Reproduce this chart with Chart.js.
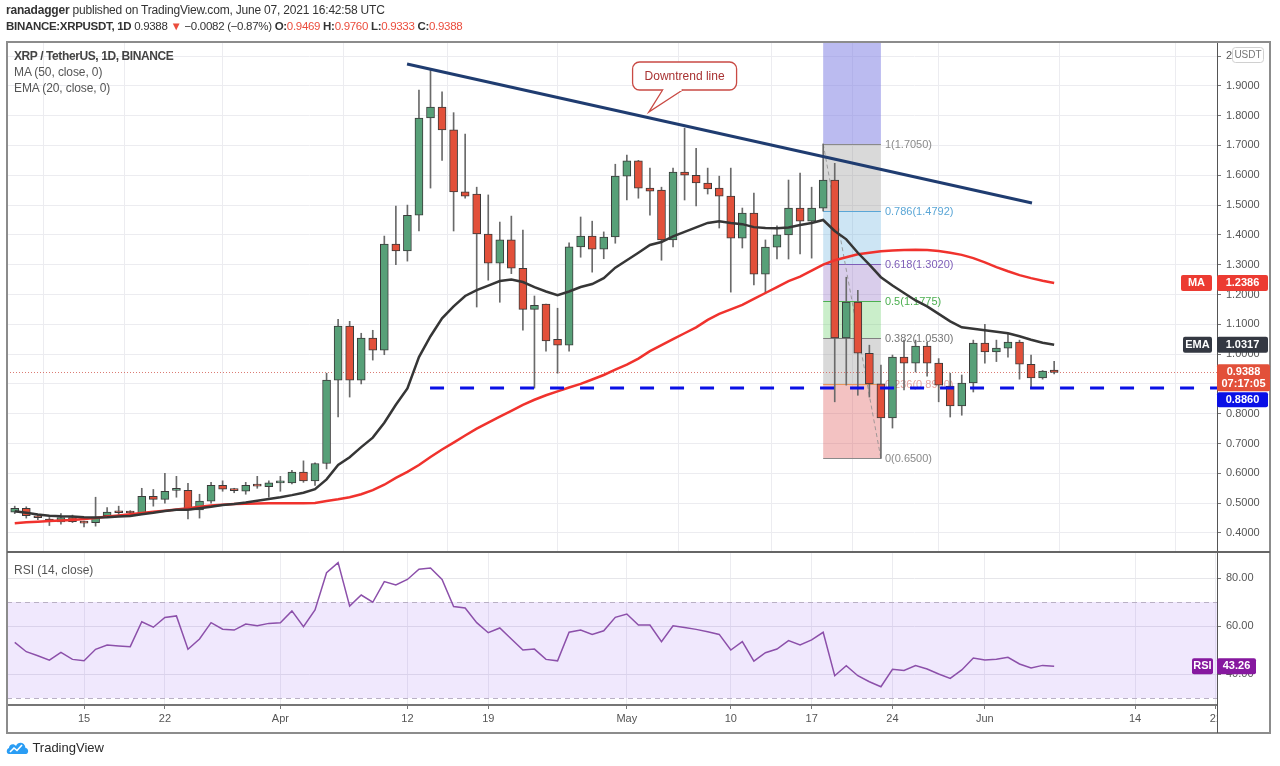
<!DOCTYPE html>
<html>
<head>
<meta charset="utf-8">
<script src="https://cdn.jsdelivr.net/npm/chart.js@4.4.0/dist/chart.umd.min.js"></script>
<style>
  body { margin:0; background:#fff; width:1280px; height:766px; overflow:hidden; position:relative;
         font-family:"Liberation Sans", Arial, sans-serif; }
  canvas { position:absolute; left:0; }
  .t { position:absolute; white-space:nowrap; color:#555; font-size:12px; line-height:16px; z-index:2; }
  .r { color:#eb4d3d; }
  b { color:#333; }
</style>
</head>
<body>
<canvas id="main" width="1280" height="553" style="top:0"></canvas>
<canvas id="rsi" width="1280" height="213" style="top:553px"></canvas>

<div class="t" style="left:6px;top:2px;color:#333;letter-spacing:-0.2px"><b>ranadagger</b> published on TradingView.com, June 07, 2021 16:42:58 UTC</div>
<div class="t" style="left:6px;top:18px;color:#333;font-size:11.5px;letter-spacing:-0.3px"><b>BINANCE:XRPUSDT, 1D</b> 0.9388 <span class="r">▼</span> −0.0082 (−0.87%) <b>O:</b><span class="r">0.9469</span> <b>H:</b><span class="r">0.9760</span> <b>L:</b><span class="r">0.9333</span> <b>C:</b><span class="r">0.9388</span></div>
<div class="t" style="left:14px;top:48px;font-weight:bold;color:#444;letter-spacing:-0.4px">XRP / TetherUS, 1D, BINANCE</div>
<div class="t" style="left:14px;top:64px;letter-spacing:-0.1px">MA (50, close, 0)</div>
<div class="t" style="left:14px;top:80px;letter-spacing:-0.1px">EMA (20, close, 0)</div>
<div class="t" style="left:14px;top:562px">RSI (14, close)</div>
<div class="t" style="left:6px;top:740px;color:#2a2a2a;font-size:13px">
  <svg width="23" height="15" viewBox="0 0 23 15" style="vertical-align:-3px">
    <path d="M3 14 C0 14 0 9 3 8 C3 4 8 3 10 6 C12 1 19 2 19.5 8 C23 8 23 14 20 14 Z" fill="#2a9df4"/>
    <polyline points="4,12 8,8 11,10.5 16,5" fill="none" stroke="#fff" stroke-width="1.6"/>
  </svg> TradingView</div>

<script>
// XRP/USDT 1D, 2021-03-09 .. 2021-06-07 (one entry per day)
const opens  = [0.470,0.483,0.457,0.447,0.437,0.452,0.438,0.435,0.458,0.473,
                0.470,0.468,0.523,0.513,0.543,0.543,0.477,0.507,0.560,0.547,
                0.540,0.562,0.555,0.568,0.568,0.604,0.575,0.633,0.913,1.094,
                0.913,1.054,1.013,1.369,1.346,1.466,1.792,1.829,1.752,1.544,
                1.537,1.403,1.305,1.383,1.288,1.150,1.168,1.050,1.030,1.360,
                1.396,1.352,1.393,1.597,1.648,1.557,1.550,1.383,1.611,1.600,
                1.574,1.557,1.530,1.389,1.473,1.268,1.359,1.400,1.490,1.446,
                1.490,1.584,1.054,1.175,1.003,0.900,0.786,0.990,0.970,1.027,
                0.970,0.893,0.826,0.903,1.037,1.007,1.020,1.040,0.966,0.920,
                0.9469];
const highs  = [0.490,0.488,0.460,0.452,0.465,0.460,0.440,0.520,0.485,0.490,
                0.475,0.550,0.546,0.600,0.590,0.567,0.530,0.570,0.575,0.550,
                0.570,0.590,0.575,0.590,0.610,0.642,0.635,0.936,1.117,1.110,
                1.070,1.080,1.396,1.497,1.500,1.886,1.953,1.880,1.810,1.738,
                1.560,1.534,1.443,1.463,1.416,1.195,1.168,1.154,1.373,1.460,
                1.446,1.410,1.637,1.668,1.650,1.624,1.560,1.624,1.758,1.690,
                1.624,1.597,1.624,1.490,1.540,1.383,1.430,1.584,1.607,1.560,
                1.705,1.640,1.258,1.214,1.030,0.963,0.997,1.047,1.047,1.040,
                0.985,0.936,0.930,1.047,1.100,1.047,1.070,1.047,0.997,0.945,
                0.9760];
const lows   = [0.465,0.450,0.445,0.425,0.430,0.435,0.420,0.423,0.455,0.462,
                0.460,0.465,0.490,0.500,0.520,0.447,0.450,0.500,0.540,0.535,
                0.530,0.550,0.520,0.540,0.565,0.570,0.560,0.615,0.789,0.856,
                0.900,0.980,0.998,1.300,1.312,1.413,1.557,1.650,1.413,1.523,
                1.158,1.248,1.174,1.270,1.080,0.886,1.010,0.936,1.010,1.325,
                1.275,1.320,1.372,1.517,1.523,1.466,1.315,1.360,1.517,1.497,
                1.537,1.423,1.208,1.356,1.232,1.205,1.319,1.319,1.336,1.322,
                1.480,0.840,0.896,0.862,0.856,0.650,0.752,0.880,0.940,0.926,
                0.840,0.789,0.795,0.873,0.970,0.975,0.990,0.916,0.890,0.916,
                0.9333];
const closes = [0.483,0.458,0.451,0.438,0.452,0.438,0.433,0.453,0.470,0.468,
                0.467,0.523,0.513,0.540,0.545,0.477,0.507,0.560,0.547,0.542,
                0.560,0.557,0.568,0.569,0.604,0.575,0.633,0.913,1.094,0.913,
                1.054,1.013,1.369,1.346,1.466,1.792,1.829,1.752,1.544,1.530,
                1.403,1.305,1.383,1.288,1.150,1.164,1.044,1.030,1.360,1.396,
                1.352,1.393,1.597,1.648,1.557,1.547,1.383,1.611,1.600,1.574,
                1.554,1.530,1.389,1.473,1.268,1.359,1.400,1.490,1.446,1.490,
                1.584,1.054,1.175,1.003,0.900,0.786,0.990,0.970,1.027,0.970,
                0.896,0.826,0.903,1.037,1.007,1.020,1.040,0.966,0.920,0.943,
                0.9388];
const ma50   = [0.433,0.436,0.438,0.440,0.442,0.444,0.447,0.450,0.455,0.459,
                0.463,0.467,0.471,0.475,0.479,0.483,0.488,0.492,0.495,0.497,
                0.498,0.499,0.500,0.500,0.500,0.500,0.501,0.507,0.513,0.520,
                0.530,0.544,0.562,0.585,0.605,0.628,0.655,0.680,0.703,0.727,
                0.750,0.770,0.790,0.810,0.830,0.847,0.862,0.875,0.888,0.900,
                0.915,0.930,0.948,0.965,0.985,1.010,1.030,1.050,1.070,1.090,
                1.115,1.135,1.150,1.165,1.185,1.205,1.225,1.245,1.260,1.280,
                1.300,1.315,1.325,1.335,1.340,1.345,1.348,1.349,1.350,1.349,
                1.346,1.340,1.333,1.322,1.308,1.292,1.278,1.265,1.255,1.246,
                1.2386];
const ema20  = [0.473,0.468,0.462,0.458,0.456,0.455,0.453,0.452,0.453,0.455,
                0.457,0.463,0.468,0.474,0.478,0.478,0.483,0.488,0.494,0.497,
                0.502,0.508,0.514,0.520,0.527,0.535,0.547,0.580,0.628,0.654,
                0.688,0.720,0.770,0.830,0.885,0.990,1.060,1.120,1.160,1.195,
                1.215,1.230,1.245,1.250,1.242,1.225,1.210,1.198,1.210,1.225,
                1.235,1.255,1.290,1.315,1.340,1.366,1.376,1.395,1.410,1.425,
                1.440,1.446,1.440,1.436,1.426,1.423,1.422,1.425,1.433,1.440,
                1.450,1.413,1.385,1.340,1.300,1.258,1.230,1.205,1.180,1.160,
                1.135,1.110,1.090,1.085,1.080,1.075,1.070,1.060,1.048,1.038,
                1.0317];
const rsi14  = [53.2,49.3,47.6,45.8,49.0,46.1,45.5,50.3,52.1,51.7,
                51.4,61.8,59.5,63.6,64.2,50.3,54.6,61.4,58.7,58.3,
                60.8,60.1,61.1,61.4,66.3,59.7,66.7,82.2,86.4,68.3,
                72.9,69.9,78.5,77.1,79.4,83.7,84.2,79.4,68.1,67.5,
                61.4,57.2,59.2,54.6,50.0,50.4,46.1,45.5,57.4,58.3,
                56.5,58.0,63.6,65.0,60.4,60.4,53.5,60.1,59.4,58.6,
                57.6,56.5,50.0,53.5,45.4,48.9,50.4,53.9,52.1,54.2,
                57.4,39.3,43.5,39.3,36.8,34.7,42.0,41.5,43.5,42.1,
                40.0,38.2,41.7,46.7,45.8,46.2,47.0,44.2,42.5,43.6,
                43.26];

// time axis (day index from Mar 9)
const tickDays   = [6, 13, 23, 34, 41, 53, 62, 69, 76, 84, 97, 104];
const tickLabels = ['15', '22', 'Apr', '12', '19', 'May', '10', '17', '24', 'Jun', '14', '21'];
const priceTicks = [0.4, 0.5, 0.6, 0.7, 0.8, 0.9, 1.0, 1.1, 1.2, 1.3, 1.4, 1.5, 1.6, 1.7, 1.8, 1.9, 2];
const rsiTicks   = [40, 60, 80];

// drawings
const trendDays = [33.97, 88.08];
const trendPrices = [1.973, 1.507];
const supportDays = [35.96, 104.1];
const supportPrices = [0.886, 0.886];
const fibDays = [70, 75];
const fibPrices = [1.705, 0.65];
const fibLevels = [1, 0.786, 0.618, 0.5, 0.382, 0.236, 0];
const lastTime = '07:17:05';

const FONT = '"Liberation Sans", Arial, sans-serif';
const GREEN = '#57a078', RED = '#e2503a';
const fibFill  = ['rgba(128,128,128,0.3)', 'rgba(90,170,220,0.3)', 'rgba(130,90,190,0.3)',
                  'rgba(80,200,80,0.3)', 'rgba(128,128,128,0.3)', 'rgba(220,80,80,0.35)'];
const fibLine  = ['#8a8a8a', '#5aa6d6', '#7e5eb8', '#4caf50', '#808080', '#e8965a', '#8a8a8a'];
const fibText  = ['#8a8a8a', '#5aa6d6', '#7e5eb8', '#4caf50', '#777777', '#e6a6a0', '#8a8a8a'];

const pts = arr => arr.map((v, i) => ({x: i, y: v}));

function rrect(ctx, x, y, w, h, r) {
  ctx.beginPath();
  ctx.moveTo(x + r, y);
  ctx.arcTo(x + w, y, x + w, y + h, r);
  ctx.arcTo(x + w, y + h, x, y + h, r);
  ctx.arcTo(x, y + h, x, y, r);
  ctx.arcTo(x, y, x + w, y, r);
  ctx.closePath();
}

function tag(ctx, x, y, w, h, bg, lines) {
  ctx.fillStyle = bg;
  rrect(ctx, x, y, w, h, 2);
  ctx.fill();
  ctx.fillStyle = '#fff';
  ctx.font = 'bold 11px ' + FONT;
  ctx.textAlign = 'center';
  ctx.textBaseline = 'middle';
  lines.forEach((s, k) => ctx.fillText(s, x + w / 2, y + 8 + k * 12));
}

function xAxis(hidden) {
  return {
    type: 'linear', min: -0.67, max: 104.1, offset: false,
    afterBuildTicks: s => { s.ticks = tickDays.map(v => ({value: v})); },
    afterFit: s => { s.height = hidden ? 0 : 28; s.paddingLeft = 0; s.paddingRight = 0; },
    grid: {color: '#ececf0', drawTicks: !hidden, tickLength: 4, tickColor: '#777'},
    border: {display: !hidden, color: '#767676', width: 2},
    ticks: {display: !hidden, autoSkip: false, maxRotation: 0, padding: 3, color: '#555',
            font: {size: 11, family: FONT}, callback: (v, i) => tickLabels[i]}
  };
}

// fib zones, dotted last price line
const mainUnder = {
  id: 'mainUnder',
  beforeDatasetsDraw(chart) {
    const {ctx, chartArea: a, scales: {x, y}} = chart;
    ctx.save();
    ctx.beginPath();
    ctx.rect(a.left, a.top, a.right - a.left, a.bottom - a.top);
    ctx.clip();
    const x0 = x.getPixelForValue(fibDays[0]), x1 = x.getPixelForValue(fibDays[1]);
    const span = fibPrices[0] - fibPrices[1];
    const lv = l => y.getPixelForValue(fibPrices[1] + l * span);
    ctx.fillStyle = 'rgba(120,120,225,0.5)';
    ctx.fillRect(x0, lv(1.618), x1 - x0, lv(1) - lv(1.618));
    for (let k = 0; k < fibLevels.length - 1; k++) {
      ctx.fillStyle = fibFill[k];
      ctx.fillRect(x0, lv(fibLevels[k]), x1 - x0, lv(fibLevels[k + 1]) - lv(fibLevels[k]));
    }
    ctx.font = '11px ' + FONT;
    ctx.textAlign = 'left';
    ctx.textBaseline = 'middle';
    fibLevels.forEach((l, k) => {
      const py = Math.round(lv(l)) + 0.5;
      ctx.strokeStyle = fibLine[k];
      ctx.lineWidth = 1;
      ctx.beginPath(); ctx.moveTo(x0, py); ctx.lineTo(x1, py); ctx.stroke();
      ctx.fillStyle = fibText[k];
      ctx.fillText(l + '(' + (fibPrices[1] + l * span).toFixed(4) + ')', x1 + 4, py);
    });
    // last price dotted line
    const py = Math.round(y.getPixelForValue(closes[closes.length - 1])) + 0.5;
    ctx.strokeStyle = 'rgba(210,90,80,0.8)';
    ctx.setLineDash([1, 2]);
    ctx.beginPath(); ctx.moveTo(a.left, py); ctx.lineTo(a.right, py); ctx.stroke();
    ctx.restore();
  },
  afterDatasetsDraw(chart) {
    // "Downtrend line" callout
    const {ctx, scales: {x, y}} = chart;
    const tipX = x.getPixelForValue(54.9), tipY = y.getPixelForValue(1.812);
    const cx = x.getPixelForValue(58.0), cy = y.getPixelForValue(1.933);
    const w = 104, h = 28, L = cx - w / 2, T = cy - h / 2;
    ctx.save();
    ctx.strokeStyle = '#c94a44';
    ctx.lineWidth = 1.3;
    ctx.fillStyle = '#fff';
    rrect(ctx, L, T, w, h, 7);
    ctx.fill(); ctx.stroke();
    ctx.beginPath();
    ctx.moveTo(L + 30, T + h);
    ctx.lineTo(tipX, tipY);
    ctx.lineTo(L + 50, T + h);
    ctx.fill(); ctx.stroke();
    ctx.fillRect(L + 31, T + h - 1.5, 18, 2.5);
    ctx.fillStyle = '#a83232';
    ctx.font = '12px ' + FONT;
    ctx.textAlign = 'center';
    ctx.textBaseline = 'middle';
    ctx.fillText('Downtrend line', cx, cy + 1);
    ctx.restore();
  },
  afterDraw(chart) {
    const {ctx, scales: {y}} = chart;
    ctx.save();
    // frame
    ctx.strokeStyle = '#8c8c8c';
    ctx.lineWidth = 2;
    ctx.beginPath();
    ctx.moveTo(7, 553); ctx.lineTo(7, 42); ctx.lineTo(1270, 42); ctx.lineTo(1270, 553);
    ctx.stroke();
    ctx.fillStyle = '#666';
    ctx.fillRect(7, 551, 1263, 2);
    // USDT badge
    ctx.fillStyle = '#fff';
    ctx.strokeStyle = '#d0d0d0';
    ctx.lineWidth = 1;
    rrect(ctx, 1232.5, 47.5, 31, 15, 3);
    ctx.fill(); ctx.stroke();
    ctx.fillStyle = '#777';
    ctx.font = '10px ' + FONT;
    ctx.textAlign = 'center';
    ctx.textBaseline = 'middle';
    ctx.fillText('USDT', 1248, 55.5);
    // price tags
    const n = closes.length - 1;
    const yMa = y.getPixelForValue(ma50[n]);
    tag(ctx, 1181, yMa - 8, 31, 16, '#ec3b32', ['MA']);
    tag(ctx, 1217, yMa - 8, 51, 16, '#ec3b32', [ma50[n].toFixed(4)]);
    const yEma = y.getPixelForValue(ema20[n]);
    tag(ctx, 1183, yEma - 8, 29, 16, '#343842', ['EMA']);
    tag(ctx, 1217, yEma - 8, 51, 16, '#343842', [ema20[n].toFixed(4)]);
    const yC = y.getPixelForValue(closes[n]);
    tag(ctx, 1217, yC - 8, 53, 27, '#e2503a', [closes[n].toFixed(4), lastTime]);
    const yS = Math.max(y.getPixelForValue(supportPrices[0]), yC + 27);
    tag(ctx, 1217, yS - 7, 51, 15, '#0a10e6', [supportPrices[0].toFixed(4)]);
    ctx.restore();
  }
};

new Chart(document.getElementById('main'), {
  type: 'bar',
  data: {
    datasets: [
      {type: 'line', data: trendDays.map((d, i) => ({x: d, y: trendPrices[i]})),
       borderColor: '#1f3c70', borderWidth: 3, pointRadius: 0, order: -2},
      {type: 'line', data: supportDays.map((d, i) => ({x: d, y: supportPrices[i]})),
       borderColor: '#0a10e6', borderWidth: 3, borderDash: [14, 16], pointRadius: 0, order: -1},
      {type: 'line', data: fibDays.map((d, i) => ({x: d, y: fibPrices[i]})),
       borderColor: 'rgba(140,140,140,0.8)', borderWidth: 1, borderDash: [4, 3], pointRadius: 0, order: 4},
      {type: 'line', data: pts(ema20), borderColor: '#363636', borderWidth: 2.5,
       pointRadius: 0, order: 0},
      {type: 'line', data: pts(ma50), borderColor: '#f0322d', borderWidth: 2.5,
       pointRadius: 0, order: 0},
      {data: lows.map((v, i) => ({x: i, y: [v, highs[i]]})), backgroundColor: '#6a6a6a',
       barThickness: 1, grouped: false, order: 3},
      {data: opens.map((v, i) => ({x: i, y: [v, closes[i]]})),
       backgroundColor: opens.map((v, i) => closes[i] >= v ? GREEN : RED),
       borderColor: '#3a3a3a', borderWidth: 1, borderSkipped: false,
       barThickness: 8, minBarLength: 2, grouped: false, order: 2}
    ]
  },
  options: {
    responsive: false, animation: false, events: [],
    layout: {padding: {left: 7, right: 10, top: 42, bottom: 0}},
    plugins: {legend: {display: false}, tooltip: {enabled: false}},
    scales: {
      x: xAxis(true),
      y: {
        position: 'right', min: 0.3329, max: 2.047,
        afterBuildTicks: s => { s.ticks = priceTicks.map(v => ({value: v})); },
        afterFit: s => { s.width = 53; s.paddingTop = 0; s.paddingBottom = 0; },
        grid: {color: '#ececf0', tickLength: 4, tickColor: '#777'},
        border: {color: '#555', width: 1},
        ticks: {padding: 5, color: '#555', font: {size: 11, family: FONT},
                callback: v => v === 2 ? '2' : v.toFixed(4)}
      }
    }
  },
  plugins: [mainUnder]
});

const rsiDecor = {
  id: 'rsiDecor',
  beforeDatasetsDraw(chart) {
    const {ctx, chartArea: a, scales: {y}} = chart;
    const y70 = y.getPixelForValue(70), y30 = y.getPixelForValue(30);
    ctx.save();
    ctx.fillStyle = 'rgba(150,90,240,0.14)';
    ctx.fillRect(a.left, y70, a.right - a.left, y30 - y70);
    ctx.strokeStyle = '#b9b0c4';
    ctx.lineWidth = 1;
    ctx.setLineDash([5, 4]);
    [y70, y30].forEach(py => {
      ctx.beginPath(); ctx.moveTo(a.left, Math.round(py) + 0.5); ctx.lineTo(a.right, Math.round(py) + 0.5); ctx.stroke();
    });
    ctx.restore();
  },
  afterDraw(chart) {
    const {ctx, chartArea: a, scales: {y}} = chart;
    ctx.save();
    ctx.fillStyle = '#fff';
    ctx.fillRect(1218, a.bottom + 2, 51, 27);
    ctx.strokeStyle = '#8c8c8c';
    ctx.lineWidth = 2;
    ctx.beginPath();
    ctx.moveTo(7, 0); ctx.lineTo(7, 180); ctx.lineTo(1270, 180); ctx.lineTo(1270, 0);
    ctx.stroke();
    ctx.strokeStyle = '#555';
    ctx.lineWidth = 1;
    ctx.beginPath(); ctx.moveTo(1217.5, a.bottom); ctx.lineTo(1217.5, 180); ctx.stroke();
    const n = rsi14.length - 1;
    const yr = y.getPixelForValue(rsi14[n]);
    tag(ctx, 1192, yr - 8, 21, 16, '#86189f', ['RSI']);
    tag(ctx, 1217, yr - 8, 39, 16, '#86189f', [rsi14[n].toFixed(2)]);
    ctx.restore();
  }
};

new Chart(document.getElementById('rsi'), {
  type: 'line',
  data: {
    datasets: [
      {data: pts(rsi14), borderColor: '#8c50aa', borderWidth: 1.5, pointRadius: 0}
    ]
  },
  options: {
    responsive: false, animation: false, events: [],
    layout: {padding: {left: 7, right: 10, top: 0, bottom: 33}},
    plugins: {legend: {display: false}, tooltip: {enabled: false}},
    scales: {
      x: xAxis(false),
      y: {
        position: 'right', min: 27.1, max: 90.42,
        afterBuildTicks: s => { s.ticks = rsiTicks.map(v => ({value: v})); },
        afterFit: s => { s.width = 53; s.paddingTop = 0; s.paddingBottom = 0; },
        grid: {color: '#e6e6ea', tickLength: 4, tickColor: '#777'},
        border: {color: '#555', width: 1},
        ticks: {padding: 5, color: '#555', font: {size: 11, family: FONT}, callback: v => v.toFixed(2)}
      }
    }
  },
  plugins: [rsiDecor]
});
</script>
</body>
</html>
